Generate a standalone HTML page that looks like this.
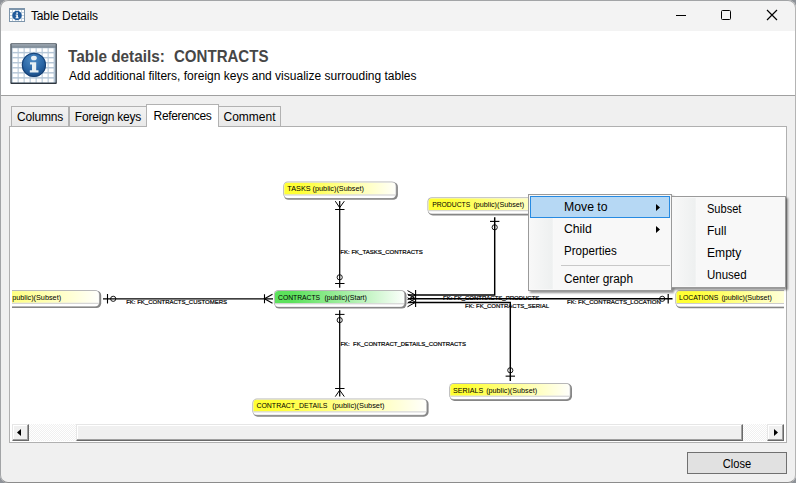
<!DOCTYPE html>
<html><head><meta charset="utf-8">
<style>
html,body{margin:0;padding:0;}
body{width:796px;height:483px;overflow:hidden;background:#f0f0f0;font-family:"Liberation Sans",sans-serif;position:relative;}
.abs{position:absolute;}
#titlebar{left:0;top:0;width:796px;height:31px;background:#f3f3f3;}
#title{left:31px;top:9px;font-size:12px;color:#000;white-space:nowrap;letter-spacing:-0.15px;}
#header{left:0;top:31px;width:796px;height:64px;background:#fff;}
#sep{left:0;top:95px;width:796px;height:1px;background:#a0a0a0;}
.h1{top:47px;font-size:16.5px;font-weight:bold;color:#464646;white-space:pre;transform-origin:0 0;}
#h2{left:69px;top:68.5px;font-size:12px;color:#000;white-space:nowrap;}
.tab{top:106px;height:20px;border:1px solid #b2b2b2;border-bottom:none;background:linear-gradient(#f2f2f2,#e9e9e9);font-size:12px;line-height:20px;text-align:center;color:#000;box-sizing:border-box;white-space:nowrap;}
#panel{left:9px;top:126px;width:778px;height:317px;background:#fff;border:1px solid #b0b0b0;box-sizing:border-box;}
#close{left:687px;top:452px;width:100px;height:22px;box-sizing:border-box;border:1px solid #707070;background:#e1e1e1;font-size:12.5px;text-align:center;line-height:23px;}
#close span{display:inline-block;transform:scaleX(0.89);}
#frame{left:0;top:0;width:794px;height:481px;border:1px solid #a2a4a6;border-right-color:#b4b4b4;border-bottom-color:#8c8c8c;border-radius:8px;box-shadow:0 0 0 20px #8e9298;}
svg text{font-family:"Liberation Sans",sans-serif;}
/* scrollbar */
#sb{left:12px;top:424px;width:772px;height:17px;background-color:#fff;background-image:linear-gradient(45deg,#f0f0f0 25%,transparent 25%,transparent 75%,#f0f0f0 75%),linear-gradient(45deg,#f0f0f0 25%,transparent 25%,transparent 75%,#f0f0f0 75%);background-size:2px 2px;background-position:0 0,1px 1px;}
.sbtn{top:0;width:17px;height:17px;box-sizing:border-box;background:#f0f0f0;border-top:1px solid #e6e6e6;border-left:1px solid #e6e6e6;border-right:1px solid #696969;border-bottom:1px solid #696969;box-shadow:inset -1px -1px 0 #a0a0a0, inset 1px 1px 0 #fff;}
#thumb{left:64px;top:0;width:667px;height:17px;box-sizing:border-box;background:#f0f0f0;border-top:1px solid #e6e6e6;border-left:1px solid #e6e6e6;border-right:1px solid #696969;border-bottom:1px solid #696969;box-shadow:inset -1px -1px 0 #a0a0a0, inset 1px 1px 0 #fff;}
/* menus */
.menu{background:#f8f8f8;border:1px solid #9a9a9a;box-sizing:border-box;box-shadow:2px 2px 2px rgba(0,0,0,0.42);font-size:12.5px;color:#000;}
.gut{left:1px;top:1px;bottom:1px;width:24px;background:linear-gradient(to right,#f8f8f8,#eef0f0 92%,#fcfcfc);}
.mi{white-space:nowrap;transform-origin:0 0;}
</style></head><body>
<div id="titlebar" class="abs"></div>
<div id="header" class="abs"></div>
<div id="sep" class="abs"></div>
<svg class="abs" style="left:660px;top:0" width="136" height="31" viewBox="660 0 136 31">
<path d="M676 15.5 H686" stroke="#000" stroke-width="1"/>
<rect x="721.5" y="10.5" width="9" height="9" rx="1" fill="none" stroke="#000" stroke-width="1"/>
<path d="M767 10 L777 20 M777 10 L767 20" stroke="#000" stroke-width="1.2"/>
</svg>
<svg class="abs" style="left:9px;top:8px" width="16" height="14" viewBox="0 0 16 14">
<rect x="0.5" y="0.5" width="15" height="13" fill="#fff" stroke="#7d95ab" stroke-width="1"/>
<rect x="0" y="0" width="16" height="2" fill="#7d95ab"/>
<path d="M1 4.5H15M1 7.5H15M1 10.5H15M3.5 2V13M6.5 2V13M9.5 2V13M12.5 2V13" stroke="#c3d2df" stroke-width="1"/>
<circle cx="8" cy="7.5" r="4.7" fill="#20599a"/>
<rect x="7.3" y="4.4" width="1.6" height="1.4" fill="#fff"/><rect x="7.3" y="6.6" width="1.6" height="3.4" fill="#fff"/><rect x="6.6" y="6.6" width="1" height="0.9" fill="#fff"/><rect x="6.5" y="9.4" width="3.2" height="0.9" fill="#fff"/>
</svg>
<svg class="abs" style="left:10px;top:43px" width="48" height="42" viewBox="0 0 48 42">
<defs><radialGradient id="ib" cx="0.45" cy="0.3" r="0.8"><stop offset="0" stop-color="#4f8cc4"/><stop offset="0.55" stop-color="#2a66a6"/><stop offset="1" stop-color="#123e73"/></radialGradient>
<linearGradient id="ih" x1="0" y1="0" x2="0" y2="1"><stop offset="0" stop-color="#a4aeb8"/><stop offset="1" stop-color="#76838f"/></linearGradient></defs>
<rect x="0.3" y="0.2" width="46.6" height="40.6" rx="1.2" fill="#4a545e"/>
<rect x="0.6" y="39.4" width="46" height="1.6" rx="0.8" fill="#2e363e"/>
<rect x="1.5" y="1.1" width="44.2" height="3.6" fill="url(#ih)"/>
<rect x="1.7" y="4.6" width="43.8" height="34.9" fill="#b6c7d7"/>
<rect x="2.70" y="5.30" width="4.9" height="3.6" fill="#fff"/><rect x="8.70" y="5.30" width="4.9" height="3.6" fill="#fff"/><rect x="14.70" y="5.30" width="4.9" height="3.6" fill="#fff"/><rect x="20.70" y="5.30" width="4.9" height="3.6" fill="#fff"/><rect x="26.70" y="5.30" width="4.9" height="3.6" fill="#fff"/><rect x="32.70" y="5.30" width="4.9" height="3.6" fill="#fff"/><rect x="38.70" y="5.30" width="4.9" height="3.6" fill="#fff"/><rect x="2.70" y="10.35" width="4.9" height="3.6" fill="#fff"/><rect x="8.70" y="10.35" width="4.9" height="3.6" fill="#fff"/><rect x="14.70" y="10.35" width="4.9" height="3.6" fill="#fff"/><rect x="20.70" y="10.35" width="4.9" height="3.6" fill="#fff"/><rect x="26.70" y="10.35" width="4.9" height="3.6" fill="#fff"/><rect x="32.70" y="10.35" width="4.9" height="3.6" fill="#fff"/><rect x="38.70" y="10.35" width="4.9" height="3.6" fill="#fff"/><rect x="2.70" y="15.40" width="4.9" height="3.6" fill="#fff"/><rect x="8.70" y="15.40" width="4.9" height="3.6" fill="#fff"/><rect x="14.70" y="15.40" width="4.9" height="3.6" fill="#fff"/><rect x="20.70" y="15.40" width="4.9" height="3.6" fill="#fff"/><rect x="26.70" y="15.40" width="4.9" height="3.6" fill="#fff"/><rect x="32.70" y="15.40" width="4.9" height="3.6" fill="#fff"/><rect x="38.70" y="15.40" width="4.9" height="3.6" fill="#fff"/><rect x="2.70" y="20.45" width="4.9" height="3.6" fill="#fff"/><rect x="8.70" y="20.45" width="4.9" height="3.6" fill="#fff"/><rect x="14.70" y="20.45" width="4.9" height="3.6" fill="#fff"/><rect x="20.70" y="20.45" width="4.9" height="3.6" fill="#fff"/><rect x="26.70" y="20.45" width="4.9" height="3.6" fill="#fff"/><rect x="32.70" y="20.45" width="4.9" height="3.6" fill="#fff"/><rect x="38.70" y="20.45" width="4.9" height="3.6" fill="#fff"/><rect x="2.70" y="25.50" width="4.9" height="3.6" fill="#fff"/><rect x="8.70" y="25.50" width="4.9" height="3.6" fill="#fff"/><rect x="14.70" y="25.50" width="4.9" height="3.6" fill="#fff"/><rect x="20.70" y="25.50" width="4.9" height="3.6" fill="#fff"/><rect x="26.70" y="25.50" width="4.9" height="3.6" fill="#fff"/><rect x="32.70" y="25.50" width="4.9" height="3.6" fill="#fff"/><rect x="38.70" y="25.50" width="4.9" height="3.6" fill="#fff"/><rect x="2.70" y="30.55" width="4.9" height="3.6" fill="#fff"/><rect x="8.70" y="30.55" width="4.9" height="3.6" fill="#fff"/><rect x="14.70" y="30.55" width="4.9" height="3.6" fill="#fff"/><rect x="20.70" y="30.55" width="4.9" height="3.6" fill="#fff"/><rect x="26.70" y="30.55" width="4.9" height="3.6" fill="#fff"/><rect x="32.70" y="30.55" width="4.9" height="3.6" fill="#fff"/><rect x="38.70" y="30.55" width="4.9" height="3.6" fill="#fff"/><rect x="2.70" y="35.60" width="4.9" height="3.6" fill="#fff"/><rect x="8.70" y="35.60" width="4.9" height="3.6" fill="#fff"/><rect x="14.70" y="35.60" width="4.9" height="3.6" fill="#fff"/><rect x="20.70" y="35.60" width="4.9" height="3.6" fill="#fff"/><rect x="26.70" y="35.60" width="4.9" height="3.6" fill="#fff"/><rect x="32.70" y="35.60" width="4.9" height="3.6" fill="#fff"/><rect x="38.70" y="35.60" width="4.9" height="3.6" fill="#fff"/>
<circle cx="23.9" cy="21.9" r="12.1" fill="url(#ib)"/>
<circle cx="23.9" cy="21.9" r="11.6" fill="none" stroke="#163f72" stroke-width="1"/>
<ellipse cx="23.9" cy="15" rx="2.9" ry="2.3" fill="#e8f0f4"/>
<path d="M20 19.2 H26.2 V27.3 H28.5 V29.6 H19.8 V27.3 H22 V21.5 H20 Z" fill="#e8f0f4"/>
</svg>
<div id="title" class="abs">Table Details</div>
<div class="abs h1" style="left:67.6px;transform:scaleX(0.93);">Table details:</div><div class="abs h1" style="left:174.2px;transform:scaleX(0.912);">CONTRACTS</div>
<div id="h2" class="abs">Add additional filters, foreign keys and visualize surrouding tables</div>
<div id="panel" class="abs"></div>
<div class="abs tab" style="left:11px;width:58px;letter-spacing:-0.2px;">Columns</div>
<div class="abs tab" style="left:69px;width:78px;letter-spacing:-0.2px;">Foreign keys</div>
<div class="abs tab" style="left:218px;width:63px;">Comment</div>
<div class="abs tab" style="left:146px;width:73px;top:104px;height:23px;background:#fff;line-height:22px;letter-spacing:-0.35px;">References</div>

<svg class="abs" style="left:0;top:0" width="796" height="483" viewBox="0 0 796 483">
<defs><clipPath id="pc"><rect x="12" y="128" width="772" height="296"/></clipPath></defs>
<g clip-path="url(#pc)">
<path d="M339.7 201 V287.8" stroke="#000" stroke-width="1.25" fill="none"/>
<path d="M335.3 201.2 L339.7 207.6 L344.3 201.2 M335.09999999999997 209.5 H344.5" stroke="#000" stroke-width="1" fill="none"/>
<circle cx="339.7" cy="277.3" r="2.6" stroke="#000" stroke-width="0.9" fill="none"/>
<path d="M335.09999999999997 283.5 H344.5" stroke="#000" stroke-width="1"/>
<path d="M339.7 310.2 V396.4" stroke="#000" stroke-width="1.25" fill="none"/>
<path d="M335.09999999999997 314.4 H344.5" stroke="#000" stroke-width="1"/>
<circle cx="339.7" cy="320.1" r="2.6" stroke="#000" stroke-width="0.9" fill="none"/>
<path d="M335.3 396.6 L339.7 390.2 L344.3 396.6 M335.09999999999997 388.5 H344.5" stroke="#000" stroke-width="1" fill="none"/>
<path d="M103 298.8 H273" stroke="#000" stroke-width="1.25" fill="none"/>
<path d="M107.5 294 V303.5" stroke="#000" stroke-width="1.1"/>
<circle cx="113.2" cy="298.8" r="2.6" stroke="#000" stroke-width="0.9" fill="none"/>
<path d="M272.5 294.3 L264.5 298.8 L272.5 303.3 M264.5 294.3 V303.3" stroke="#000" stroke-width="1.1" fill="none"/>
<path d="M408 295.0 H494.7 V217.2" stroke="#000" stroke-width="1.45" fill="none"/>
<path d="M408 298.7 H672.5" stroke="#000" stroke-width="1.45" fill="none"/>
<path d="M408 302.45 H510.3 V381" stroke="#000" stroke-width="1.45" fill="none"/>
<path d="M407.5 290.6 L415.5 295.1 L407.5 299.6" stroke="#000" stroke-width="1" fill="none"/>
<path d="M407.5 294.1 L415.5 298.6 L407.5 303.1" stroke="#000" stroke-width="1" fill="none"/>
<path d="M407.5 297.8 L415.5 302.3 L407.5 306.8" stroke="#000" stroke-width="1" fill="none"/>
<path d="M415.6 290 V307" stroke="#000" stroke-width="1.1"/>
<path d="M490 221.4 H499.4" stroke="#000" stroke-width="1.1"/>
<circle cx="494.7" cy="227.3" r="2.6" stroke="#000" stroke-width="0.9" fill="none"/>
<circle cx="510.3" cy="370.3" r="2.6" stroke="#000" stroke-width="0.9" fill="none"/>
<path d="M505.6 376.15 H515" stroke="#000" stroke-width="1.1"/>
<circle cx="662.2" cy="298.8" r="2.6" stroke="#000" stroke-width="0.9" fill="none"/>
<path d="M668.2 294 V303.5" stroke="#000" stroke-width="1.2"/>
<text x="340.3" y="254.2" font-size="6" textLength="82.5" lengthAdjust="spacingAndGlyphs" fill="#000" stroke="#000" stroke-width="0.2" xml:space="preserve">FK: FK_TASKS_CONTRACTS</text>
<text x="340.4" y="346.2" font-size="6" fill="#000" stroke="#000" stroke-width="0.2" xml:space="preserve">FK:  FK_CONTRACT_DETAILS_CONTRACTS</text>
<text x="126.2" y="303.8" font-size="6" fill="#000" stroke="#000" stroke-width="0.2" xml:space="preserve">FK: FK_CONTRACTS_CUSTOMERS</text>
<text x="443" y="299.9" font-size="6" fill="#000" stroke="#000" stroke-width="0.2" xml:space="preserve">FK: FK_CONTRACTS_PRODUCTS</text>
<text x="465" y="308.2" font-size="6" fill="#000" stroke="#000" stroke-width="0.2" xml:space="preserve">FK: FK_CONTRACTS_SERIAL</text>
<text x="567" y="304.0" font-size="6" textLength="93.9" lengthAdjust="spacingAndGlyphs" fill="#000" stroke="#000" stroke-width="0.2" xml:space="preserve">FK: FK_CONTRACTS_LOCATION</text>
<linearGradient id="gyc283_181" gradientUnits="userSpaceOnUse" x1="283.2" y1="0" x2="397.9" y2="0"><stop offset="0" stop-color="#ffff34"/><stop offset="0.14" stop-color="#ffff34"/><stop offset="0.6" stop-color="#ffffa4"/><stop offset="1" stop-color="#ffffff"/></linearGradient><rect x="283.8" y="182.2" width="114.10000000000001" height="17.599999999999998" rx="4.8" fill="#868686"/><rect x="283.2" y="181.6" width="113.10000000000001" height="16.7" rx="4.5" fill="#b8b8b8"/><rect x="284.2" y="182.6" width="111.3" height="15.299999999999999" rx="3.6" fill="#fff"/><clipPath id="c283_181"><rect x="284.2" y="182.6" width="111.3" height="15.299999999999999" rx="3.6"/></clipPath><g clip-path="url(#c283_181)"><rect x="284.2" y="182.6" width="111.3" height="11.899999999999999" fill="url(#gyc283_181)"/><rect x="284.2" y="194.49999999999997" width="111.3" height="1" fill="#cccccc"/></g><text x="287.3" y="190.9" font-size="7.2" textLength="76.6" lengthAdjust="spacingAndGlyphs" fill="#000" xml:space="preserve">TASKS (public)(Subset)</text>
<linearGradient id="gyc427_197" gradientUnits="userSpaceOnUse" x1="427.4" y1="0" x2="567.4" y2="0"><stop offset="0" stop-color="#ffff34"/><stop offset="0.14" stop-color="#ffff34"/><stop offset="0.6" stop-color="#ffffa4"/><stop offset="1" stop-color="#ffffff"/></linearGradient><rect x="428.0" y="197.9" width="139.4" height="17.599999999999998" rx="4.8" fill="#868686"/><rect x="427.4" y="197.3" width="138.4" height="16.7" rx="4.5" fill="#b8b8b8"/><rect x="428.4" y="198.3" width="136.6" height="15.299999999999999" rx="3.6" fill="#fff"/><clipPath id="c427_197"><rect x="428.4" y="198.3" width="136.6" height="15.299999999999999" rx="3.6"/></clipPath><g clip-path="url(#c427_197)"><rect x="428.4" y="198.3" width="136.6" height="11.899999999999999" fill="url(#gyc427_197)"/><rect x="428.4" y="210.2" width="136.6" height="1" fill="#cccccc"/></g><text x="432.2" y="206.7" font-size="7.2" textLength="38.0" lengthAdjust="spacingAndGlyphs" fill="#000" xml:space="preserve">PRODUCTS</text><text x="473.4" y="206.7" font-size="7.2" textLength="50.8" lengthAdjust="spacingAndGlyphs" fill="#000" xml:space="preserve">(public)(Subset)</text>
<linearGradient id="ggc273_290" gradientUnits="userSpaceOnUse" x1="273.9" y1="0" x2="406.5" y2="0"><stop offset="0" stop-color="#5ce25c"/><stop offset="0.14" stop-color="#5ce25c"/><stop offset="0.6" stop-color="#aef0ae"/><stop offset="1" stop-color="#ffffff"/></linearGradient><rect x="274.5" y="290.6" width="132.0" height="18.0" rx="4.8" fill="#868686"/><rect x="273.9" y="290.0" width="131.0" height="17.1" rx="4.5" fill="#b8b8b8"/><rect x="274.9" y="291.0" width="129.2" height="15.700000000000001" rx="3.6" fill="#fff"/><clipPath id="c273_290"><rect x="274.9" y="291.0" width="129.2" height="15.700000000000001" rx="3.6"/></clipPath><g clip-path="url(#c273_290)"><rect x="274.9" y="291.0" width="129.2" height="12.3" fill="url(#ggc273_290)"/><rect x="274.9" y="303.3" width="129.2" height="1" fill="#cccccc"/></g><text x="278" y="299.6" font-size="7.2" textLength="42.1" lengthAdjust="spacingAndGlyphs" fill="#000" xml:space="preserve">CONTRACTS</text><text x="324.5" y="299.6" font-size="7.2" textLength="42.4" lengthAdjust="spacingAndGlyphs" fill="#000" xml:space="preserve">(public)(Start)</text>
<linearGradient id="gycm62_290" gradientUnits="userSpaceOnUse" x1="-62" y1="0" x2="101.19999999999999" y2="0"><stop offset="0" stop-color="#ffff34"/><stop offset="0.14" stop-color="#ffff34"/><stop offset="0.6" stop-color="#ffffa4"/><stop offset="1" stop-color="#ffffff"/></linearGradient><rect x="-61.4" y="290.70000000000005" width="162.6" height="17.4" rx="4.8" fill="#868686"/><rect x="-62" y="290.1" width="161.6" height="16.5" rx="4.5" fill="#b8b8b8"/><rect x="-61" y="291.1" width="159.79999999999998" height="15.1" rx="3.6" fill="#fff"/><clipPath id="cm62_290"><rect x="-61" y="291.1" width="159.79999999999998" height="15.1" rx="3.6"/></clipPath><g clip-path="url(#cm62_290)"><rect x="-61" y="291.1" width="159.79999999999998" height="11.7" fill="url(#gycm62_290)"/><rect x="-61" y="302.8" width="159.79999999999998" height="1" fill="#cccccc"/></g><text x="12.2" y="299.9" font-size="7.2" textLength="48.9" lengthAdjust="spacingAndGlyphs" fill="#000" xml:space="preserve">public)(Subset)</text>
<linearGradient id="gyc675_290" gradientUnits="userSpaceOnUse" x1="675.3" y1="0" x2="805.3" y2="0"><stop offset="0" stop-color="#ffff34"/><stop offset="0.14" stop-color="#ffff34"/><stop offset="0.6" stop-color="#ffffa4"/><stop offset="1" stop-color="#ffffff"/></linearGradient><rect x="675.9" y="290.70000000000005" width="129.4" height="17.599999999999998" rx="4.8" fill="#868686"/><rect x="675.3" y="290.1" width="128.4" height="16.7" rx="4.5" fill="#b8b8b8"/><rect x="676.3" y="291.1" width="126.6" height="15.299999999999999" rx="3.6" fill="#fff"/><clipPath id="c675_290"><rect x="676.3" y="291.1" width="126.6" height="15.299999999999999" rx="3.6"/></clipPath><g clip-path="url(#c675_290)"><rect x="676.3" y="291.1" width="126.6" height="11.899999999999999" fill="url(#gyc675_290)"/><rect x="676.3" y="303.0" width="126.6" height="1" fill="#cccccc"/></g><text x="679.1" y="299.9" font-size="7.2" textLength="39.2" lengthAdjust="spacingAndGlyphs" fill="#000" xml:space="preserve">LOCATIONS</text><text x="721.4" y="299.9" font-size="7.2" textLength="50.6" lengthAdjust="spacingAndGlyphs" fill="#000" xml:space="preserve">(public)(Subset)</text>
<linearGradient id="gyc252_398" gradientUnits="userSpaceOnUse" x1="252.3" y1="0" x2="428.6" y2="0"><stop offset="0" stop-color="#ffff34"/><stop offset="0.14" stop-color="#ffff34"/><stop offset="0.6" stop-color="#ffffa4"/><stop offset="1" stop-color="#ffffff"/></linearGradient><rect x="252.9" y="399.20000000000005" width="175.70000000000002" height="17.5" rx="4.8" fill="#868686"/><rect x="252.3" y="398.6" width="174.70000000000002" height="16.6" rx="4.5" fill="#b8b8b8"/><rect x="253.3" y="399.6" width="172.9" height="15.200000000000001" rx="3.6" fill="#fff"/><clipPath id="c252_398"><rect x="253.3" y="399.6" width="172.9" height="15.200000000000001" rx="3.6"/></clipPath><g clip-path="url(#c252_398)"><rect x="253.3" y="399.6" width="172.9" height="11.8" fill="url(#gyc252_398)"/><rect x="253.3" y="411.40000000000003" width="172.9" height="1" fill="#cccccc"/></g><text x="256.4" y="407.8" font-size="7.2" textLength="71.1" lengthAdjust="spacingAndGlyphs" fill="#000" xml:space="preserve">CONTRACT_DETAILS</text><text x="332.3" y="407.8" font-size="7.2" textLength="52.2" lengthAdjust="spacingAndGlyphs" fill="#000" xml:space="preserve">(public)(Subset)</text>
<linearGradient id="gyc449_383" gradientUnits="userSpaceOnUse" x1="449.2" y1="0" x2="572.0" y2="0"><stop offset="0" stop-color="#ffff34"/><stop offset="0.14" stop-color="#ffff34"/><stop offset="0.6" stop-color="#ffffa4"/><stop offset="1" stop-color="#ffffff"/></linearGradient><rect x="449.8" y="383.6" width="122.2" height="17.4" rx="4.8" fill="#868686"/><rect x="449.2" y="383.0" width="121.2" height="16.5" rx="4.5" fill="#b8b8b8"/><rect x="450.2" y="384.0" width="119.39999999999999" height="15.1" rx="3.6" fill="#fff"/><clipPath id="c449_383"><rect x="450.2" y="384.0" width="119.39999999999999" height="15.1" rx="3.6"/></clipPath><g clip-path="url(#c449_383)"><rect x="450.2" y="384.0" width="119.39999999999999" height="11.7" fill="url(#gyc449_383)"/><rect x="450.2" y="395.7" width="119.39999999999999" height="1" fill="#cccccc"/></g><text x="453.1" y="392.9" font-size="7.2" textLength="30.1" lengthAdjust="spacingAndGlyphs" fill="#000" xml:space="preserve">SERIALS</text><text x="486.2" y="392.9" font-size="7.2" textLength="50.9" lengthAdjust="spacingAndGlyphs" fill="#000" xml:space="preserve">(public)(Subset)</text>
</g>
</svg>

<div id="sb" class="abs">
 <div class="abs sbtn" style="left:0"><svg class="abs" style="left:-1px;top:-1px" width="17" height="17"><path d="M5 8.5 L9 5 V12 Z" fill="#000"/></svg></div>
 <div id="thumb" class="abs"></div>
 <div class="abs sbtn" style="left:755px"><svg class="abs" style="left:-1px;top:-1px" width="17" height="17"><path d="M11 8.5 L7 5 V12 Z" fill="#000"/></svg></div>
</div>

<div id="close" class="abs"><span>Close</span></div>

<!-- main menu -->
<div class="abs menu" style="left:528px;top:194px;width:144px;height:97px;">
 <div class="abs gut"></div>
 <div class="abs" style="left:1px;top:1px;width:140px;height:22px;box-sizing:border-box;border:1px solid #268ae2;background:#b6d8f4;"></div>
 <div class="abs mi" style="left:35px;top:5px;transform:scaleX(0.98);">Move to</div>
 <svg class="abs" style="left:126px;top:8px" width="6" height="32"><path d="M1 1 L5 4.5 L1 8 Z M1 23 L5 26.5 L1 30 Z" fill="#000"/></svg>
 <div class="abs mi" style="left:35px;top:27px;transform:scaleX(0.975);">Child</div>
 <div class="abs mi" style="left:35px;top:49px;transform:scaleX(0.927);">Properties</div>
 <div class="abs" style="left:32px;top:70px;width:109px;height:1px;background:#c8c8c8;"></div>
 <div class="abs mi" style="left:35px;top:77px;transform:scaleX(0.946);">Center graph</div>
</div>

<!-- submenu -->
<div class="abs menu" style="left:671px;top:196px;width:115px;height:92px;border-left-color:#9a9a9a;">
 <div class="abs gut"></div>
 <div class="abs mi" style="left:35px;top:5px;transform:scaleX(0.884);">Subset</div>
 <div class="abs mi" style="left:35px;top:27px;transform:scaleX(0.965);">Full</div>
 <div class="abs mi" style="left:35px;top:49px;transform:scaleX(0.967);">Empty</div>
 <div class="abs mi" style="left:35px;top:71px;transform:scaleX(0.92);">Unused</div>
</div>
<div id="frame" class="abs"></div>
</body></html>
